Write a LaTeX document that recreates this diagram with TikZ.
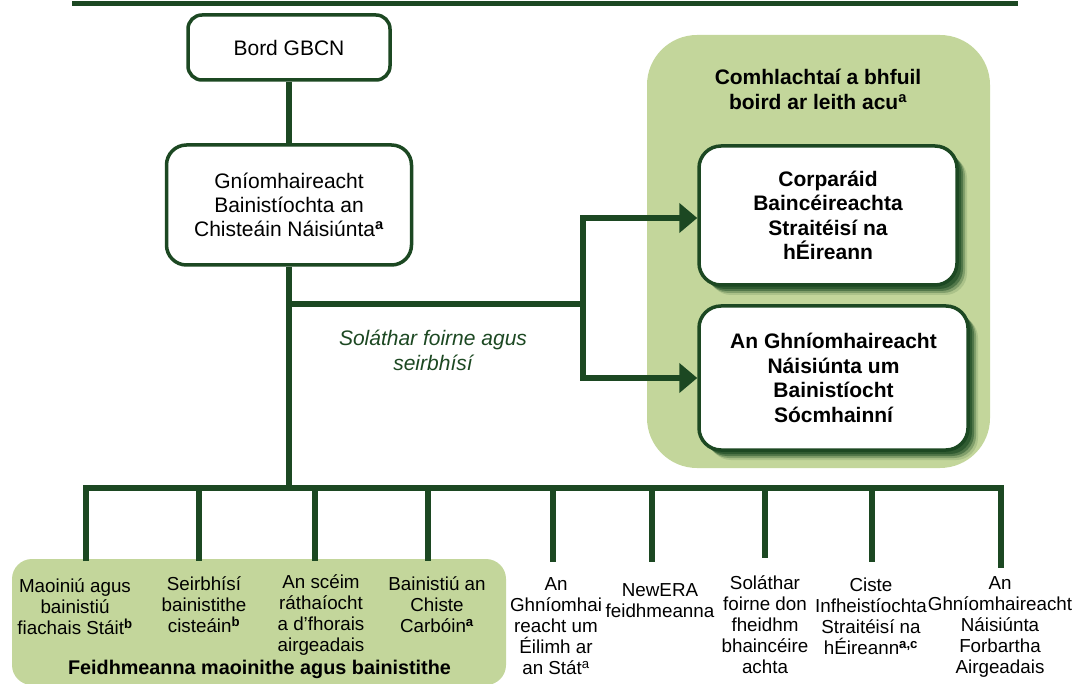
\documentclass[tikz,border=0pt]{standalone}
\usepackage{fontspec}
\setmainfont{Liberation Sans}
\usetikzlibrary{arrows.meta,shadows}
\definecolor{dkgreen}{RGB}{28,72,34}
\definecolor{ltgreen}{RGB}{195,214,155}
\definecolor{shgreen}{RGB}{35,80,40}
\newcommand{\supb}[1]{\textsuperscript{\textbf{#1}}}
\begin{document}
\begin{tikzpicture}[x=1pt,y=-1pt,
  conn/.style={draw=dkgreen,line width=5.5pt},
  arr/.style={conn,-{Triangle[length=18pt,width=29pt]}},
  rule/.style={draw=dkgreen,line width=5pt},
  orgbox/.style={draw=dkgreen,line width=3.5pt,fill=white,rounded corners=14pt,
    align=center,inner sep=0pt,font=\fontsize{21}{24}\selectfont},
  bigbox/.style={orgbox,rounded corners=22pt,font=\bfseries\fontsize{21}{24.5}\selectfont,
    drop shadow={shadow xshift=10pt,shadow yshift=-10pt,fill=shgreen,opacity=0.15},
    drop shadow={shadow xshift=8pt,shadow yshift=-8pt,fill=shgreen,opacity=0.3},
    drop shadow={shadow xshift=6pt,shadow yshift=-6pt,fill=shgreen,opacity=0.5},
    drop shadow={shadow xshift=4pt,shadow yshift=-4pt,fill=shgreen,opacity=0.7}},
  panel/.style={fill=ltgreen,inner sep=0pt},
  leaf/.style={align=center,inner sep=0pt,font=\fontsize{18.8}{21}\selectfont},
  note/.style={align=center,inner sep=0pt,text=dkgreen,font=\itshape\fontsize{21}{24.5}\selectfont},
  ptitle/.style={align=center,inner sep=0pt,font=\bfseries\fontsize{21}{25}\selectfont}]
\useasboundingbox (0,0) rectangle (1089,684);

% top rule
\coordinate (tl) at (72,3.5);
\coordinate (tr) at (1018,3.5);
\draw[rule] (tl) -- (tr);

% panels
\node[panel,rounded corners=50pt,minimum width=343pt,minimum height=433pt] (rpanel) at (818.5,251.5) {};
\node[panel,rounded corners=20pt,minimum width=494pt,minimum height=126pt] (fpanel) at (259,622) {};

% boxes
\node[orgbox,minimum width=202pt,minimum height=65pt] (bord) at (289,47.5) {Bord GBCN};
\node[orgbox,rounded corners=20pt,minimum width=245pt,minimum height=120pt] (gniomh) at (289,205)
  {Gníomhaireacht\\Bainistíochta an\\Chisteáin Náisiúnta\supb{a}};
\node[ptitle] (rtitle) at (818,89.5) {Comhlachtaí a bhfuil\\boird ar leith acu\textsuperscript{a}};
\node[bigbox,minimum width=258pt,minimum height=139pt] (corp) at (828,215.5)
  {Corparáid\\Baincéireachta\\Straitéisí na\\hÉireann};
\node[bigbox,minimum width=269pt,minimum height=144pt] (gnbs) at (833.5,378)
  {An Ghníomhaireacht\\Náisiúnta um\\Bainistíocht\\Sócmhainní};
\node[note] (lbl) at (433,350.5) {Soláthar foirne agus\\seirbhísí};

% bottom texts
\node[leaf] (c1) at (75,607) {Maoiniú agus\\bainistiú\\fiachais Stáit\supb{b}};
\node[leaf] (c2) at (204,605) {Seirbhísí\\bainistithe\\cisteáin\supb{b}};
\node[leaf] (c3) at (321,615.5) {An scéim\\ráthaíocht\\a d’fhorais\\airgeadais};
\node[leaf] (c4) at (437,605) {Bainistiú an\\Chiste\\Carbóin\supb{a}};
\node[align=center,inner sep=0pt,font=\bfseries\fontsize{19.8}{22}\selectfont] (foot) at (259.5,669)
  {Feidhmeanna maoinithe agus bainistithe};
\node[leaf] (c5) at (556,626.5) {An\\Ghníomhai\\reacht um\\Éilimh ar\\an Stát\textsuperscript{a}};
\node[leaf] (c6) at (660,601) {NewERA\\feidhmeanna};
\node[leaf] (c7) at (765,624.5) {Soláthar\\foirne don\\fheidhm\\bhaincéire\\achta};
\node[leaf] (c8) at (871,616.5) {Ciste\\Infheistíochta\\Straitéisí na\\hÉireann\supb{a,c}};
\node[leaf] (c9) at (1000,627) {An\\Ghníomhaireacht\\Náisiúnta\\Forbartha\\Airgeadais};

% connectors
\draw[conn] (bord.south) -- (gniomh.north);
\coordinate (j1) at (289,304);
\coordinate (j2) at (583,304);
\coordinate (trunkend) at (289,488);
\draw[conn] (gniomh.south) -- (trunkend);
\draw[conn] (j1) -- (j2);
\draw[arr] (j2) |- ([yshift=-2.5pt]corp.west);
\draw[arr] (j2) |- (gnbs.west);

% bottom bar and drops
\coordinate (d1t) at (86,488);   \coordinate (d1b) at (86,561);
\coordinate (d2t) at (199,488);  \coordinate (d2b) at (199,561);
\coordinate (d3t) at (315,488);  \coordinate (d3b) at (315,561);
\coordinate (d4t) at (428,488);  \coordinate (d4b) at (428,561);
\coordinate (d5t) at (553,488);  \coordinate (d5b) at (553,562);
\coordinate (d6t) at (652,488);  \coordinate (d6b) at (652,562);
\coordinate (d7t) at (765,488);  \coordinate (d7b) at (765,558);
\coordinate (d8t) at (872,488);  \coordinate (d8b) at (872,562);
\coordinate (d9t) at (1001,488); \coordinate (d9b) at (1001,568);
\draw[conn] (d1b) -- (d1t) -- (d9t) -- (d9b);
\foreach \i in {2,...,8} { \draw[conn] (d\i t) -- (d\i b); }
\end{tikzpicture}
\end{document}
